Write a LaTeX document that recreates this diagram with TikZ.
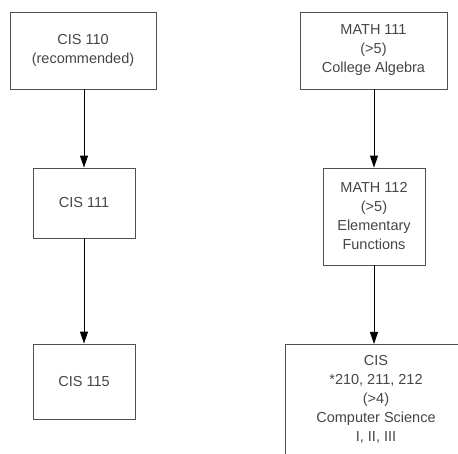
\documentclass[tikz,border=0pt]{standalone}
\usepackage{fontspec}
\setmainfont{Liberation Sans}
\usetikzlibrary{arrows.meta}

\definecolor{boxline}{RGB}{80,80,80}
\definecolor{boxtext}{RGB}{70,70,70}

\tikzset{
  course/.style={draw=boxline, line width=0.8pt, rectangle, align=center,
    text=boxtext, font=\fontsize{14.5}{19}\selectfont, inner sep=0pt},
  prereq/.style={draw=black, line width=0.9pt, -{Triangle[length=12pt,width=8pt]}}
}

\begin{document}
\begin{tikzpicture}[x=1pt,y=-1pt]
    \clip (0,0) rectangle (458,454);
    \fill[white] (0,0) rectangle (458,454);

    %Shape: Rectangle [left column]
    \node[course, minimum width=146pt, minimum height=77pt] (cis110) at (83,50.5) {CIS 110\\(recommended)};
    \node[course, minimum width=102pt, minimum height=70pt] (cis111) at (84,203) {CIS 111};
    \node[course, minimum width=102pt, minimum height=75pt] (cis115) at (84,381.5) {CIS 115};

    %Shape: Rectangle [right column]
    \node[course, minimum width=147pt, minimum height=77pt] (math111) at (373.5,50.5) {MATH 111\\(>5)\\College Algebra};
    \node[course, minimum width=102pt, minimum height=97pt] (math112) at (374,216.5) {MATH 112\\(>5)\\Elementary\\Functions};
    \node[course, minimum width=182pt, minimum height=130pt, anchor=north] (cis210) at (376,344) {};
    % Text Node
    \node[course, draw=none, anchor=north] (cis210txt) at ([yshift=-11pt]cis210.north) {CIS\\*210, 211, 212\\(>4)\\Computer Science\\I, II, III};

    %Straight Lines
    \draw[prereq] (cis110.south -| cis111.north) -- (cis111.north);
    \draw[prereq] (cis111) -- (cis115);
    \draw[prereq] (math111.south -| math112.north) -- (math112.north);
    \draw[prereq] (math112) -- (math112 |- cis210.north);

\end{tikzpicture}
\end{document}
